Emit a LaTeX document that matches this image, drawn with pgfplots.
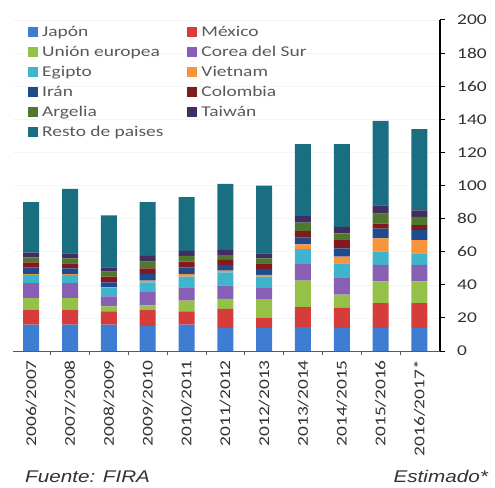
\documentclass[border=0pt]{standalone}
\usepackage{pgfplots}
\usepackage{pgfplotstable}
\pgfplotsset{compat=1.18}
\usepackage{fontspec}
\setmainfont{Carlito}[FakeStretch=1.3]
\newfontfamily\footfont{Liberation Sans}[FakeStretch=1.22]
\definecolor{japon}{RGB}{62,125,210}
\definecolor{mexico}{RGB}{214,61,58}
\definecolor{ue}{RGB}{150,193,72}
\definecolor{corea}{RGB}{135,95,180}
\definecolor{egipto}{RGB}{65,180,205}
\definecolor{vietnam}{RGB}{248,148,60}
\definecolor{iran}{RGB}{30,75,140}
\definecolor{colombia}{RGB}{130,25,30}
\definecolor{argelia}{RGB}{80,120,45}
\definecolor{taiwan}{RGB}{65,45,95}
\definecolor{resto}{RGB}{25,110,130}
\definecolor{lgray}{RGB}{89,89,89}
\definecolor{tgray}{RGB}{50,50,50}
\pgfplotstableread{
x Jap Mex UE Cor Egi Vie Ira Col Arg Tai Res
0 16 9 7 9 5 0.5 4 3 3 3 30.5
1 16 9 7 9 5 0.5 3.5 3 3 3 39
2 16 8 3 6 5 0.5 3 3.5 3 2.5 31.5
3 15 10 2.5 8 6 1 4 3.5 4 3.5 32.5
4 16 8 6.5 8 6.5 1.5 4 3.5 3.5 3 32.5
5 14 11.5 6 8 8 1 3.5 3 3 3 40
6 14 6 11 7 7 1 3.5 3.5 3 3 41
7 14.5 12 16 10 9 3 4 4 5 4 43.5
8 14 12 8 10 9 4 5 5 4 4 50
9 14 15 13 10 8 8 6 3 6 5 51
10 14 15 13 10 7 8 6 3 5 4 49
}\data
\begin{document}
\begin{tikzpicture}
\begin{axis}[
  name=ax,
  scale only axis,
  width=427bp, height=331bp,
  ybar stacked, bar width=16bp,
  xmin=-0.47, xmax=10.53,
  ymin=0, ymax=200,
  ytick={0,20,...,200},
  axis y line*=right,
  axis x line*=bottom,
  y axis line style={black, line width=1.5bp},
  x axis line style={gray!70!black, line width=1bp},
  tick align=outside,
  major tick length=5bp,
  minor tick length=4bp,
  ytick style={black, line width=1bp},
  major x tick style={draw=none},
  minor x tick style={gray!70!black, line width=0.8bp},
  xtick={0,...,10},
  minor xtick={0.5,1.5,...,9.5},
  xticklabels={2006/2007,2007/2008,2008/2009,2009/2010,2010/2011,2011/2012,2012/2013,2013/2014,2014/2015,2015/2016,2016/2017*},
  /pgf/number format/assume math mode=true,
  ticklabel style={font=\fontsize{15}{18}\selectfont, text=tgray},
  xticklabel style={rotate=90, anchor=east, inner sep=0pt},
  xticklabel shift=4bp,
  yticklabel style={anchor=west, inner sep=0pt, xshift=12bp},
  ymajorgrids, grid style={gray!8, line width=0.6bp},
  legend columns=2,
  legend cell align=left,
  legend image code/.code={\fill[#1] (0bp,-4.5bp) rectangle (10bp,5.5bp);},
  legend style={at={(0,1)}, anchor=north west, xshift=12bp, yshift=-3bp,
    draw=none, fill=none, row sep=5bp,
    nodes={inner sep=0pt, text height=11bp, text depth=4bp, font=\fontsize{15}{18}\selectfont, text=lgray},
    /tikz/every odd column/.append style={column sep=4bp},
    /tikz/every even column/.append style={column sep=24bp}},
]
\addplot[fill=japon, draw=none] table[x=x,y=Jap]{\data};
\addplot[fill=mexico, draw=none] table[x=x,y=Mex]{\data};
\addplot[fill=ue, draw=none] table[x=x,y=UE]{\data};
\addplot[fill=corea, draw=none] table[x=x,y=Cor]{\data};
\addplot[fill=egipto, draw=none] table[x=x,y=Egi]{\data};
\addplot[fill=vietnam, draw=none] table[x=x,y=Vie]{\data};
\addplot[fill=iran, draw=none] table[x=x,y=Ira]{\data};
\addplot[fill=colombia, draw=none] table[x=x,y=Col]{\data};
\addplot[fill=argelia, draw=none] table[x=x,y=Arg]{\data};
\addplot[fill=taiwan, draw=none] table[x=x,y=Tai]{\data};
\addplot[fill=resto, draw=none] table[x=x,y=Res]{\data};
\legend{Japón, México, Unión europea, Corea del Sur, Egipto, Vietnam, Irán, Colombia, Argelia, Taiwán, Resto de paises}
\end{axis}
\node[anchor=base west, inner sep=0pt, text=tgray, font=\footfont\itshape\fontsize{17}{20}\selectfont] at ([shift={(12bp,-131bp)}]ax.south west) {Fuente: FIRA};
\node[anchor=base east, inner sep=0pt, text=tgray, font=\footfont\itshape\fontsize{17}{20}\selectfont] at ([shift={(475bp,-131bp)}]ax.south west) {Estimado*};
\pgfresetboundingbox
\path[use as bounding box] ([shift={(-13bp,-137bp)}]ax.south west) rectangle ++(495bp,488bp);
\end{tikzpicture}
\end{document}
